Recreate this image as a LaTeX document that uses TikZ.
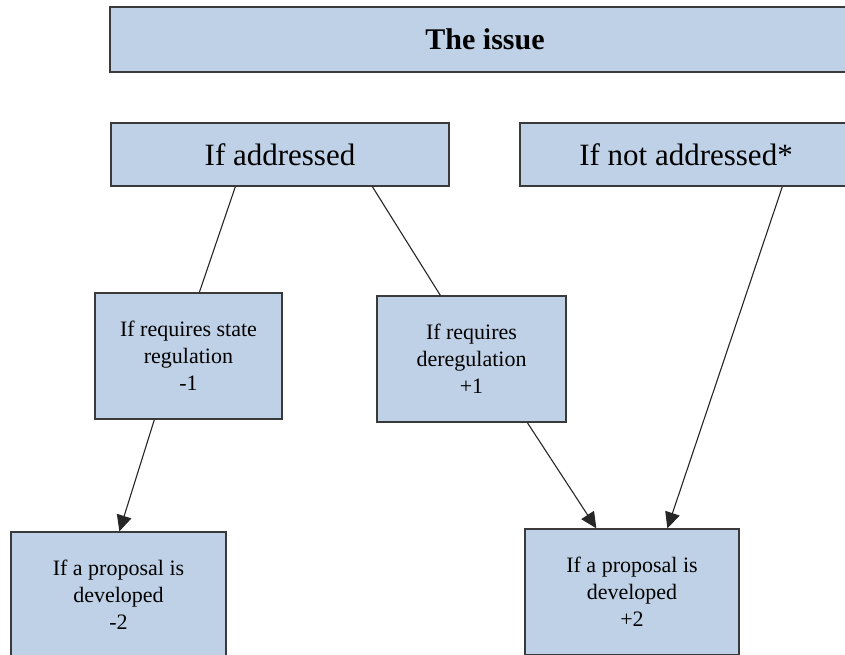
\documentclass[tikz,border=0pt]{standalone}
\usepackage{fontspec}
\setmainfont{Liberation Serif}
\usetikzlibrary{arrows.meta}
\definecolor{boxfill}{HTML}{BFD1E6}
\definecolor{boxline}{HTML}{3A3A3A}
\begin{document}
\begin{tikzpicture}[x=1pt,y=-1pt,
  box/.style={draw=boxline,fill=boxfill,line width=1.3pt,inner sep=0pt,align=center,rectangle},
  bigtext/.style={font=\fontsize{31}{36}\selectfont},
  smalltext/.style={font=\fontsize{22}{27}\selectfont},
  link/.style={draw=black!85,line width=1.1pt},
  arrowlink/.style={link,-{Triangle[length=16pt,width=15pt]}}]
\useasboundingbox (0,0) rectangle (845,654);
\clip (0,0) rectangle (845,654);
\node[box,minimum width=750pt,minimum height=65pt,font=\fontsize{30}{34}\selectfont\bfseries] (issue) at (485,39.5) {The issue};
\node[box,bigtext,minimum width=338pt,minimum height=63pt] (addr) at (280,154.5) {If addressed};
\node[box,bigtext,minimum width=332pt,minimum height=63pt] (notaddr) at (686,154.5) {If not addressed*};
\node[box,smalltext,minimum width=187pt,minimum height=126pt] (state) at (188.5,356) {If requires state\\regulation\\-1};
\node[box,smalltext,minimum width=189pt,minimum height=126pt] (dereg) at (471.5,359) {If requires\\deregulation\\+1};
\node[box,smalltext,minimum width=215pt,minimum height=126pt] (prop1) at (118.5,595) {If a proposal is\\developed\\-2};
\node[box,smalltext,minimum width=214pt,minimum height=126pt] (prop2) at (632,592) {If a proposal is\\developed\\+2};
\draw[link] ([xshift=125pt]addr.south west) -- ([xshift=105pt]state.north west);
\draw[link] ([xshift=262pt]addr.south west) -- ([xshift=64pt]dereg.north west);
\draw[arrowlink] ([xshift=263pt]notaddr.south west) -- ([xshift=143pt]prop2.north west);
\draw[arrowlink] ([xshift=60pt]state.south west) -- ([xshift=109pt]prop1.north west);
\draw[arrowlink] ([xshift=151pt]dereg.south west) -- ([xshift=72pt]prop2.north west);
\end{tikzpicture}
\end{document}
